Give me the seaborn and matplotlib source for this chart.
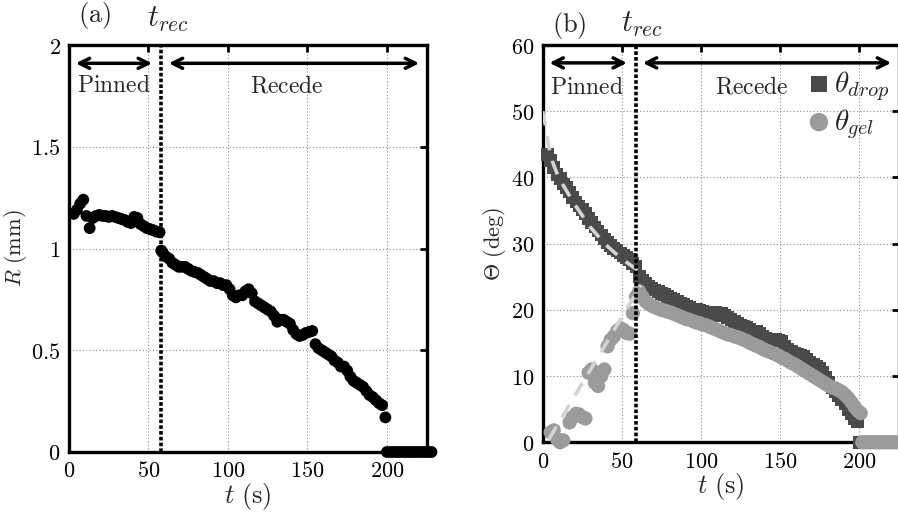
import numpy as np
import pandas as pd
import matplotlib
matplotlib.use("Agg")
import matplotlib.pyplot as plt
from matplotlib.ticker import FuncFormatter
import seaborn as sns

# ---------------- data ----------------
# panel (a): contact radius R (mm) vs t (s)
t_a = [3, 5, 7, 9, 11, 13, 15, 17, 19, 21, 23, 25, 27, 29, 31, 33, 35, 37, 39, 41, 43, 45, 47, 49, 51, 53, 55, 57,
       58, 59, 61, 63, 65, 67, 69, 71, 73, 75, 77, 79, 81, 83, 85, 87, 89, 91, 93, 95, 97, 99,
       101, 103, 105, 107, 109, 111, 113, 115, 117, 119, 121, 123, 125, 127, 129, 131, 133, 135, 137, 139,
       141, 143, 145, 147, 149, 151, 153, 155, 157, 159, 161, 163, 165, 167, 169, 171, 173, 175, 177, 179,
       181, 183, 185, 187, 189, 191, 193, 195, 197, 199,
       200, 202, 204, 206, 208, 210, 212, 214, 216, 218, 220, 222, 224, 226, 228]
R_a = [1.17, 1.19, 1.22, 1.24, 1.16, 1.10, 1.15, 1.16, 1.165, 1.16, 1.16, 1.155, 1.16, 1.155, 1.15, 1.145, 1.14, 1.13, 1.125, 1.155, 1.15, 1.12, 1.11, 1.10, 1.095, 1.09, 1.083, 1.08,
       0.99, 0.98, 0.96, 0.95, 0.93, 0.92, 0.91, 0.91, 0.91, 0.90, 0.89, 0.885, 0.88, 0.87, 0.86, 0.85, 0.84, 0.84, 0.83, 0.83, 0.82, 0.82,
       0.80, 0.77, 0.76, 0.77, 0.77, 0.79, 0.80, 0.78, 0.74, 0.73, 0.72, 0.71, 0.70, 0.69, 0.67, 0.64, 0.65, 0.65, 0.64, 0.63,
       0.60, 0.58, 0.57, 0.575, 0.585, 0.59, 0.595, 0.53, 0.51, 0.50, 0.49, 0.48, 0.47, 0.45, 0.44, 0.42, 0.42, 0.40, 0.37, 0.35,
       0.34, 0.33, 0.32, 0.30, 0.28, 0.27, 0.255, 0.24, 0.23, 0.17,
       0, 0, 0, 0, 0, 0, 0, 0, 0, 0, 0, 0, 0, 0, 0]

# panel (b): contact angles (deg) vs t (s)
t_drop = [3, 5, 7, 9, 11, 13, 15, 17, 19, 21, 23, 25, 27, 29, 31, 33, 35, 37, 39, 41, 43, 45, 47, 49, 51, 53, 55, 57, 59,
          61, 63, 65, 67, 69, 71, 73, 75, 77, 79, 81, 83, 85, 87, 89, 91, 93, 95, 97, 99,
          101, 103, 105, 107, 109, 111, 113, 115, 117, 119, 121, 123, 125, 127, 129, 131, 133, 135, 137, 139,
          141, 143, 145, 147, 149, 151, 153, 155, 157, 159, 161, 163, 165, 167, 169, 171, 173, 175, 177, 179,
          181, 183, 185, 187, 189, 191, 193, 195, 197, 199,
          200, 202, 204, 206, 208, 210, 212, 214, 216, 218, 220, 222, 224, 226, 228]
th_drop = [43.5, 42.5, 41.5, 40.5, 39.8, 39.0, 38.5, 37.8, 37.0, 36.3, 35.7, 35.1, 34.5, 33.8, 33.2, 32.5, 31.9, 31.3, 30.7, 30.2, 29.7, 29.3, 29.0, 28.6, 28.2, 27.9, 27.6, 27.0, 26.5,
           25.0, 24.5, 24.0, 23.6, 23.3, 23.0, 22.8, 22.5, 22.3, 22.0, 21.8, 21.6, 21.3, 21.0, 20.8, 20.5, 20.3, 20.1, 20.0, 19.9,
           19.8, 19.6, 19.0, 19.2, 19.6, 19.5, 19.4, 19.2, 18.9, 18.5, 18.2, 17.9, 17.6, 17.5, 17.3, 17.0, 16.8, 16.7, 16.4, 16.0,
           15.7, 15.5, 15.6, 15.6, 15.4, 15.3, 14.5, 14.0, 13.8, 13.5, 13.3, 13.1, 12.9, 12.5, 12.1, 11.8, 11.5, 11.2, 10.6, 9.8,
           9.0, 8.2, 7.6, 7.0, 6.5, 5.8, 5.0, 4.3, 3.6, 3.2,
           0, 0, 0, 0, 0, 0, 0, 0, 0, 0, 0, 0, 0, 0, 0]

t_gel = [5, 7, 9, 11, 13, 17, 19, 21, 23, 25, 27, 29, 31, 33, 35, 37, 39, 41, 43, 45, 47, 49, 51, 53, 55, 57, 59,
         61, 63, 65, 67, 69, 71, 73, 75, 77, 79, 81, 83, 85, 87, 89, 91, 93, 95, 97, 99,
         101, 103, 105, 107, 109, 111, 113, 115, 117, 119, 121, 123, 125, 127, 129, 131, 133, 135, 137, 139,
         141, 143, 145, 147, 149, 151, 153, 155, 157, 159, 161, 163, 165, 167, 169, 171, 173, 175, 177, 179,
         181, 183, 185, 187, 189, 191, 193, 195, 197, 199, 201,
         202, 204, 206, 208, 210, 212, 214, 216, 218, 220, 222, 224, 226, 228]
th_gel = [1.5, 1.8, 0.5, 0.0, 0.3, 3.0, 3.8, 4.3, 4.2, 3.8, 3.6, 10.5, 11.0, 9.0, 8.5, 10.0, 11.0, 14.5, 15.5, 16.0, 16.8, 17.2, 17.0, 16.5, 16.4, 19.5, 22.0,
          22.8, 22.0, 21.3, 20.9, 20.6, 20.4, 20.2, 20.0, 19.9, 19.7, 19.6, 19.4, 19.2, 19.0, 18.8, 18.6, 18.5, 18.3, 18.1, 18.0,
          17.8, 17.7, 17.5, 17.3, 17.1, 16.9, 16.7, 16.5, 16.3, 16.2, 16.0, 15.9, 15.7, 15.5, 15.3, 15.0, 14.8, 14.6, 14.4, 14.1,
          13.9, 13.7, 13.5, 13.3, 13.1, 12.8, 12.6, 12.3, 12.0, 11.8, 11.5, 11.2, 10.9, 10.6, 10.3, 10.0, 9.7, 9.4, 9.1, 8.8,
          8.5, 8.3, 8.1, 7.9, 7.6, 7.2, 6.7, 6.1, 5.4, 4.8, 4.4,
          0, 0, 0, 0, 0, 0, 0, 0, 0, 0, 0, 0, 0, 0]

# dashed guide curves in the pinned stage
t_fit_drop = [0, 2, 4, 6, 10, 15, 20, 30, 40, 50, 60, 65]
th_fit_drop = [50, 47.5, 44.5, 42.5, 40.0, 38.0, 36.0, 32.5, 29.8, 27.7, 26.0, 25.2]
t_fit_gel = [4, 62]
th_fit_gel = [0.5, 23.7]

t_rec_a = 58
t_rec_b = 59
xticks = [0, 50, 100, 150, 200]
yticks_a = [0, 0.5, 1, 1.5, 2]
yticks_b = [0, 10, 20, 30, 40, 50, 60]

# ---------------- style ----------------
sns.set_style("white")
plt.rcParams["mathtext.fontset"] = "cm"
plt.rcParams["font.family"] = ["DejaVu Serif"]

DROP = "#4a4a4a"
GEL = "#9b9b9b"
FIT = "#d4d4d4"

fig = plt.figure(figsize=(8.98, 5.14), dpi=100)
ax1 = fig.add_axes([69 / 898, 1 - 452 / 514, 357.7 / 898, 407 / 514])
ax2 = fig.add_axes([542.7 / 898, 1 - 442.3 / 514, 356 / 898, 397.3 / 514])

mfmt = FuncFormatter(lambda v, p: r"$%g$" % v)


def style_axes(ax, ylim, yticks):
    ax.set_xlim(0, 225)
    ax.set_ylim(*ylim)
    ax.set_xticks(xticks)
    ax.set_yticks(yticks)
    ax.xaxis.set_major_formatter(mfmt)
    ax.yaxis.set_major_formatter(mfmt)
    ax.grid(True, ls=(0, (1, 2)), color="#8a8a8a", lw=0.8)
    ax.tick_params(direction="in", top=True, right=True, length=5, width=2,
                   labelsize=16, pad=6, colors="black")
    for s in ax.spines.values():
        s.set_linewidth(2.4)
        s.set_color("black")
        s.set_visible(True)


# ---- panel (a) ----
dfa = pd.DataFrame({"t": t_a, "R": R_a})
sns.scatterplot(data=dfa, x="t", y="R", ax=ax1, color="black", s=72,
                edgecolor="none", clip_on=False, zorder=4, legend=False)
style_axes(ax1, (0, 2), yticks_a)
ax1.axvline(t_rec_a, color="black", ls=(0, (1, 0.6)), lw=2.6, zorder=5)
ax1.set_xlabel(r"$t\ \mathrm{(s)}$", fontsize=19, labelpad=-1)
ax1.set_ylabel(r"$R\ \mathrm{(mm)}$", fontsize=16, labelpad=2)
ax1.annotate("", xy=(54, 1.91), xytext=(2.5, 1.91),
             arrowprops=dict(arrowstyle="<->", lw=2.5, mutation_scale=18, color="black"))
ax1.annotate("", xy=(222, 1.91), xytext=(61, 1.91),
             arrowprops=dict(arrowstyle="<->", lw=2.5, mutation_scale=18, color="black"))
ax1.text(28, 1.80, r"$\mathrm{Pinned}$", ha="center", va="center", fontsize=17)
ax1.text(137, 1.80, r"$\mathrm{Recede}$", ha="center", va="center", fontsize=17)
ax1.text(16, 2.145, r"$\mathrm{(a)}$", ha="center", va="center", fontsize=19)
ax1.text(t_rec_a + 4, 2.13, r"$t_{rec}$", ha="center", va="center", fontsize=22)

# ---- panel (b) ----
dfd = pd.DataFrame({"t": t_drop, "theta": th_drop})
dfg = pd.DataFrame({"t": t_gel, "theta": th_gel})
sns.scatterplot(data=dfd, x="t", y="theta", ax=ax2, color=DROP, marker="s", s=85,
                edgecolor="none", clip_on=False, zorder=3, label=r"$\theta_{drop}$")
sns.scatterplot(data=dfg, x="t", y="theta", ax=ax2, color=GEL, marker="o", s=105,
                edgecolor="none", clip_on=False, zorder=4, label=r"$\theta_{gel}$")
sns.lineplot(x=t_fit_drop, y=th_fit_drop, ax=ax2, color=FIT, lw=2.6,
             ls=(0, (4, 3)), zorder=5, legend=False)
sns.lineplot(x=t_fit_gel, y=th_fit_gel, ax=ax2, color=FIT, lw=2.6,
             ls=(0, (4, 3)), zorder=5, legend=False)
style_axes(ax2, (0, 60), yticks_b)
ax2.axvline(t_rec_b, color="black", ls=(0, (1, 0.6)), lw=2.6, zorder=6)
ax2.set_xlabel(r"$t\ \mathrm{(s)}$", fontsize=19, labelpad=-1)
ax2.set_ylabel(r"$\Theta\ \mathrm{(deg)}$", fontsize=16, labelpad=2)
ax2.annotate("", xy=(55, 57.3), xytext=(2.5, 57.3),
             arrowprops=dict(arrowstyle="<->", lw=2.5, mutation_scale=18, color="black"))
ax2.annotate("", xy=(222, 57.3), xytext=(61.5, 57.3),
             arrowprops=dict(arrowstyle="<->", lw=2.5, mutation_scale=18, color="black"))
ax2.text(28, 53.6, r"$\mathrm{Pinned}$", ha="center", va="center", fontsize=17)
ax2.text(132, 53.6, r"$\mathrm{Recede}$", ha="center", va="center", fontsize=17)
ax2.text(17, 63.0, r"$\mathrm{(b)}$", ha="center", va="center", fontsize=19)
ax2.text(t_rec_b + 4, 63.3, r"$t_{rec}$", ha="center", va="center", fontsize=22)
leg = ax2.legend(loc="upper left", bbox_to_anchor=(0.735, 0.94), frameon=False,
                 fontsize=21, handletextpad=0.0, labelspacing=0.15, markerscale=1.3,
                 handlelength=1.0, borderaxespad=0.0, borderpad=0.0)

fig.savefig("out.png", dpi=100)
